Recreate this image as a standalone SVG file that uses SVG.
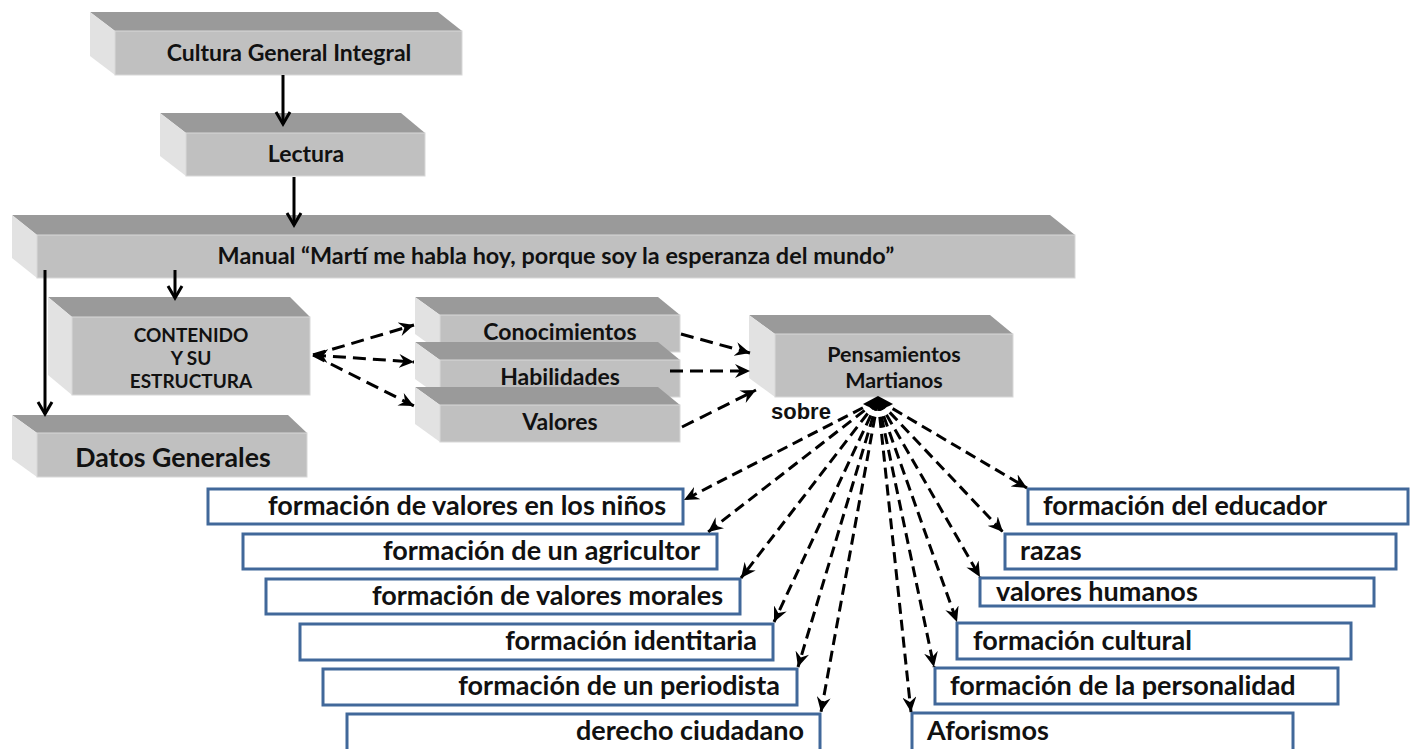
<svg xmlns="http://www.w3.org/2000/svg" width="1414" height="749" viewBox="0 0 1414 749">
<style>
.top{fill:#9a9a9a}
.side{fill:#e2e2e2}
.front{fill:#c0c0c0;stroke:#d8d8d8;stroke-width:1}
.t{font-family:Lato,"Open Sans",sans-serif;font-weight:bold;fill:#111;text-anchor:middle}
.m{font-size:23px}
.p{font-size:21.5px}
.s{font-size:19px}
.b{font-size:26.7px}
.box{fill:#fff;stroke:#41689a;stroke-width:3}
.bt{font-family:Lato,"Open Sans",sans-serif;font-weight:bold;font-size:27px;fill:#111}
.r{text-anchor:end}
.solid{stroke:#000;stroke-width:3;fill:none;marker-end:url(#open)}
.dash{stroke:#000;stroke-width:3;fill:none;stroke-dasharray:13 7;marker-end:url(#stealth)}
.fan{stroke:#000;stroke-width:3;fill:none;stroke-dasharray:11 6;marker-end:url(#stealth)}
</style>
<defs>
<marker id="open" markerUnits="userSpaceOnUse" markerWidth="18" markerHeight="18" refX="15" refY="9" orient="auto"><path d="M3,2 L15,9 L3,16" fill="none" stroke="#000" stroke-width="3"/></marker>
<marker id="stealth" markerUnits="userSpaceOnUse" markerWidth="16" markerHeight="14" refX="15" refY="7" orient="auto-start-reverse"><path d="M0,0 L15,7 L0,14 L5,7 z" fill="#000"/></marker>
</defs>
<rect width="1414" height="749" fill="#fff"/>

<g id="cultura">
<polygon class="top" points="90,12 438,12 462,31 115,31"/>
<polygon class="side" points="90,12 115,31 115,75 90,56"/>
<rect class="front" x="115" y="31" width="347" height="44"/>
<text class="t m" x="289" y="61">Cultura General Integral</text>
</g>

<g id="lectura">
<polygon class="top" points="160,113 401,113 425,133 186,133"/>
<polygon class="side" points="160,113 186,133 186,176 160,156"/>
<rect class="front" x="186" y="133" width="239" height="43"/>
<text class="t m" x="306" y="162">Lectura</text>
</g>

<g id="manual">
<polygon class="top" points="12,215 1050,215 1075,235 37,235"/>
<polygon class="side" points="12,215 37,235 37,278 12,258"/>
<rect class="front" x="37" y="235" width="1038" height="43"/>
<text class="t" x="556" y="264" font-size="23.4">Manual “Martí me habla hoy, porque soy la esperanza del mundo”</text>
</g>

<g id="contenido">
<polygon class="top" points="48,297 290,297 310,317 72,317"/>
<polygon class="side" points="48,297 72,317 72,395 48,375"/>
<rect class="front" x="72" y="317" width="238" height="78"/>
<text class="t s" x="191" y="342">CONTENIDO</text>
<text class="t s" x="191" y="365">Y SU</text>
<text class="t s" x="191" y="388">ESTRUCTURA</text>
</g>

<g id="datos">
<polygon class="top" points="12,415 288,415 307,433 37,433"/>
<polygon class="side" points="12,415 37,433 37,477 12,459"/>
<rect class="front" x="37" y="433" width="270" height="44"/>
<text class="t b" x="173" y="467">Datos Generales</text>
</g>

<g id="conocimientos">
<polygon class="top" points="415,297 658,297 680,315 440,315"/>
<polygon class="side" points="415,297 440,315 440,352 415,334"/>
<rect class="front" x="440" y="315" width="240" height="37"/>
<text class="t m" x="560" y="340">Conocimientos</text>
</g>

<g id="habilidades">
<polygon class="top" points="415,342 658,342 680,360 440,360"/>
<polygon class="side" points="415,342 440,360 440,397 415,379"/>
<rect class="front" x="440" y="360" width="240" height="37"/>
<text class="t m" x="560" y="385">Habilidades</text>
</g>

<g id="valores">
<polygon class="top" points="415,387 658,387 680,405 440,405"/>
<polygon class="side" points="415,387 440,405 440,442 415,424"/>
<rect class="front" x="440" y="405" width="240" height="37"/>
<text class="t m" x="560" y="430">Valores</text>
</g>

<g id="pensamientos">
<polygon class="top" points="749,315 990,315 1013,334 775,334"/>
<polygon class="side" points="749,315 775,334 775,397 749,378"/>
<rect class="front" x="775" y="334" width="238" height="63"/>
<text class="t p" x="894" y="362">Pensamientos</text>
<text class="t p" x="894" y="388">Martianos</text>
</g>

<g id="sobre">
<path d="M878,396 L863,404 Q878,413 893,404 Z" fill="#000"/>
<text x="771" y="419" font-family="'Liberation Sans',Arial,sans-serif" font-weight="bold" font-size="22" fill="#111">sobre</text>
</g>

<g id="l1"><rect class="box" x="208" y="489" width="475" height="35"/><text class="bt r" x="666" y="515">formación de valores en los niños</text></g>
<g id="l2"><rect class="box" x="243" y="534" width="474" height="35"/><text class="bt r" x="700" y="560">formación de un agricultor</text></g>
<g id="l3"><rect class="box" x="266" y="579" width="474" height="35"/><text class="bt r" x="723" y="605">formación de valores morales</text></g>
<g id="l4"><rect class="box" x="300" y="624" width="473" height="36"/><text class="bt r" x="757" y="650">formación identitaria</text></g>
<g id="l5"><rect class="box" x="323" y="669" width="474" height="36"/><text class="bt r" x="780" y="695">formación de un periodista</text></g>
<g id="l6"><rect class="box" x="347" y="714" width="473" height="40"/><text class="bt r" x="804" y="740">derecho ciudadano</text></g>

<g id="r1"><rect class="box" x="1028" y="489" width="380" height="35"/><text class="bt" x="1043" y="515">formación del educador</text></g>
<g id="r2"><rect class="box" x="1005" y="534" width="391" height="35"/><text class="bt" x="1020" y="560">razas</text></g>
<g id="r3"><rect class="box" x="980" y="578" width="394" height="28"/><text class="bt" x="996" y="601">valores humanos</text></g>
<g id="r4"><rect class="box" x="957" y="623" width="394" height="36"/><text class="bt" x="973" y="650">formación cultural</text></g>
<g id="r5"><rect class="box" x="935" y="668" width="403" height="36"/><text class="bt" x="950" y="695">formación de la personalidad</text></g>
<g id="r6"><rect class="box" x="912" y="713" width="381" height="40"/><text class="bt" x="927" y="740">Aforismos</text></g>

<g id="connectors">
<line class="solid" x1="283" y1="75" x2="283" y2="124"/>
<line class="solid" x1="294" y1="177" x2="294" y2="225"/>
<line class="solid" x1="175" y1="270" x2="175" y2="298"/>
<line class="solid" x1="45" y1="270" x2="45" y2="414"/>
<line class="dash" x1="313" y1="355" x2="414" y2="325"/>
<line class="dash" x1="313" y1="355" x2="414" y2="362" style="marker-start:url(#stealth)"/>
<line class="dash" x1="313" y1="355" x2="414" y2="406"/>
<line class="dash" x1="681" y1="334" x2="750" y2="353"/>
<line class="dash" x1="670" y1="371" x2="750" y2="371"/>
<line class="dash" x1="682" y1="427" x2="756" y2="390"/>
<line class="fan" x1="878" y1="400" x2="684" y2="500"/>
<line class="fan" x1="878" y1="400" x2="708" y2="532"/>
<line class="fan" x1="878" y1="400" x2="741" y2="578"/>
<line class="fan" x1="878" y1="400" x2="774" y2="622"/>
<line class="fan" x1="878" y1="400" x2="798" y2="667"/>
<line class="fan" x1="878" y1="400" x2="821" y2="712"/>
<line class="fan" x1="878" y1="400" x2="1027" y2="488"/>
<line class="fan" x1="878" y1="400" x2="1003" y2="532"/>
<line class="fan" x1="878" y1="400" x2="980" y2="577"/>
<line class="fan" x1="878" y1="400" x2="957" y2="622"/>
<line class="fan" x1="878" y1="400" x2="934" y2="667"/>
<line class="fan" x1="878" y1="400" x2="911" y2="712"/>
</g>
</svg>
